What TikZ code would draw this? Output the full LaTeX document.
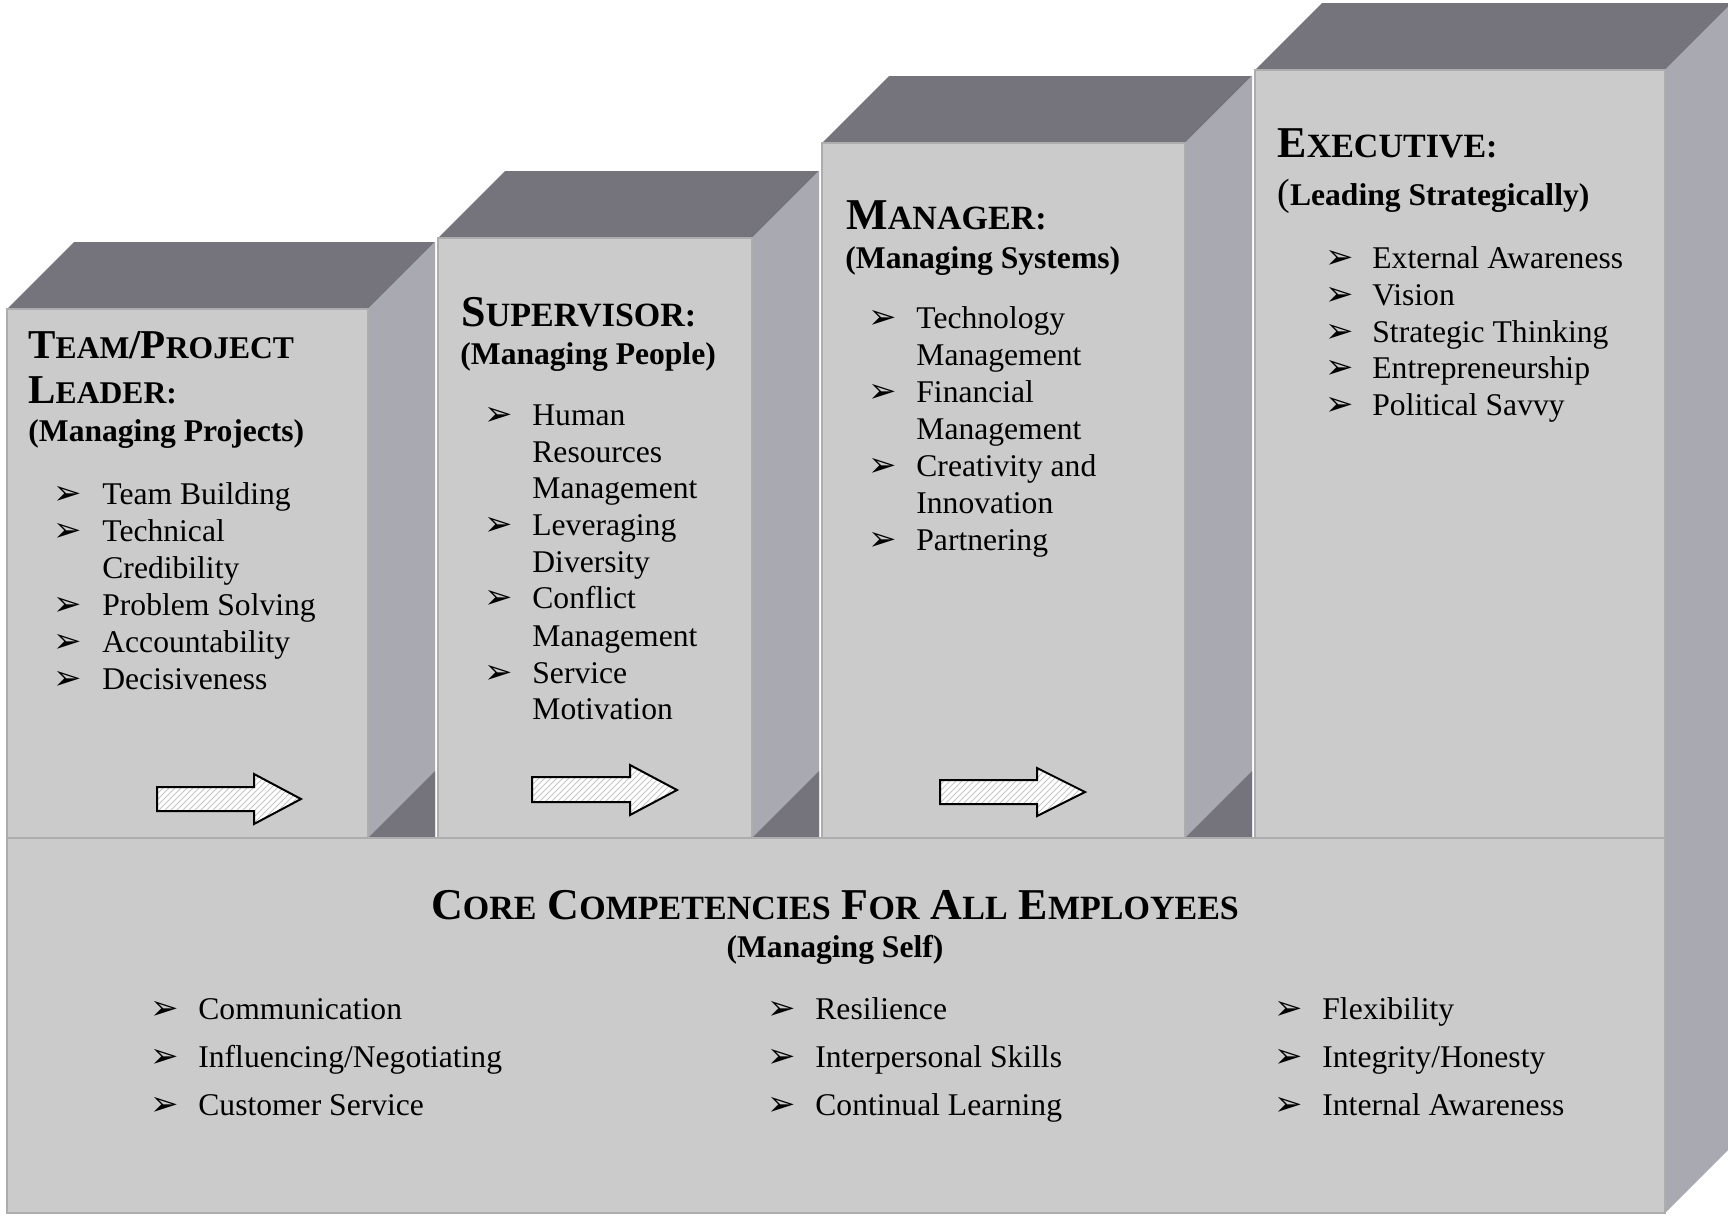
\documentclass[tikz,border=0pt]{standalone}
\usepackage{fontspec}
\setmainfont{Liberation Serif}
\newfontfamily\dvs{DejaVu Sans}
\usetikzlibrary{patterns}
\definecolor{frontc}{HTML}{CBCBCB}
\definecolor{topc}{HTML}{75747D}
\definecolor{sidec}{HTML}{A9A9B1}
\definecolor{edgec}{HTML}{ADADAD}
\newcommand\BigA[1]{{\fontsize{22}{22}\selectfont #1}}
\newcommand\SmA[1]{{\fontsize{17}{17}\selectfont #1}}
\newcommand\BigT[1]{{\fontsize{20.5}{20.5}\selectfont #1}}
\newcommand\SmT[1]{{\fontsize{15.8}{15.8}\selectfont #1}}
\newcommand\blockbox[3]{%
  \fill[topc] (#1,#3) -- (#1+67,#3-67) -- (#2+67,#3-67) -- (#2,#3) -- cycle;
  \fill[sidec] (#2,#3) -- (#2+67,#3-67) -- (#2+67,838) -- (#2,838) -- cycle;
  \fill[topc] (#2,838) -- (#2+67,771) -- (#2+67,838) -- cycle;
  \draw[front] (#1,#3) rectangle (#2,838);
}
\begin{document}
\begin{tikzpicture}[x=0.5pt,y=-0.5pt,
  front/.style={fill=frontc, draw=edgec, line width=0.7pt},
  itm/.style={anchor=base west, inner sep=0pt, font=\fontsize{15.8}{18.4}\selectfont},
  blt/.style={anchor=base west, inner sep=0pt, font=\dvs\fontsize{17}{17}\selectfont},
  ttl/.style={anchor=base west, inner sep=0pt, font=\bfseries\fontsize{22}{22}\selectfont},
  sub/.style={anchor=base west, inner sep=0pt, font=\bfseries\fontsize{15.8}{18}\selectfont},
  arr/.style={draw=black, line width=1pt, preaction={fill=white}, pattern=north east lines, pattern color=gray!45}]
\useasboundingbox (0,0) rectangle (1728,1215);
\fill[white] (0,0) rectangle (1728,1215);
\clip (0,0) rectangle (1728,1215);
% blocks
\blockbox{7}{368}{309}
\blockbox{438}{752}{238}
\blockbox{822}{1185}{143}
% executive block + base
\fill[topc] (1255,70) -- (1322,3) -- (1732,3) -- (1665,70) -- cycle;
\fill[sidec] (1665,70) -- (1732,3) -- (1732,1146) -- (1665,1213) -- cycle;
\draw[front] (1255,70) rectangle (1665,838);
\draw[front] (7,838) rectangle (1665,1213);
% arrows
\draw[arr] (157,787) -- (254,787) -- (254,774) -- (301,799) -- (254,824) -- (254,811) -- (157,811) -- cycle;
\draw[arr] (532,777) -- (630,777) -- (630,765) -- (677,790) -- (630,815) -- (630,802) -- (532,802) -- cycle;
\draw[arr] (940,780) -- (1037,780) -- (1037,768) -- (1085,792) -- (1037,816) -- (1037,804) -- (940,804) -- cycle;
% titles
\node[ttl,font=\bfseries\fontsize{20.5}{20.5}\selectfont] (t1a) at (28,358) {\BigT{T}\SmT{EAM}/\BigT{P}\SmT{ROJECT}};
\node[ttl,font=\bfseries\fontsize{20.5}{20.5}\selectfont] (t1b) at (28,403) {\BigT{L}\SmT{EADER:}};
\node[sub] (s1) at (28,441) {(Managing Projects)};
\node[ttl] (t2) at (461,326) {\BigA{S}\SmA{UPERVISOR:}};
\node[sub] (s2) at (460,364) {(Managing People)};
\node[ttl] (t3) at (846,229) {\BigA{M}\SmA{ANAGER:}};
\node[sub] (s3) at (845,268) {(Managing Systems)};
\node[ttl] (t4) at (1277,157) {\BigA{E}\SmA{XECUTIVE:}};
\node[sub] (s4) at (1277,205) {{\mdseries\fontsize{19}{19}\selectfont(}Leading Strategically)};
% lists
\foreach \yy/\txt/\bb [count=\i] in {504/Team Building/1, 541/Technical/1, 578/Credibility/0, 615/Problem Solving/1, 652/Accountability/1, 689/Decisiveness/1}{
  \node[itm] (a\i) at (102,\yy) {\txt};
  \ifnum\bb=1 \node[blt] (ab\i) at (53,\yy) {➢};\fi
}
\foreach \yy/\txt/\bb [count=\i] in {425/Human/1, 462/Resources/0, 498/Management/0, 535/Leveraging/1, 572/Diversity/0, 608/Conflict/1, 646/Management/0, 683/Service/1, 719/Motivation/0}{
  \node[itm] (b\i) at (532,\yy) {\txt};
  \ifnum\bb=1 \node[blt] (bb\i) at (484,\yy) {➢};\fi
}
\foreach \yy/\txt/\bb [count=\i] in {328/Technology/1, 365/Management/0, 402/Financial/1, 439/Management/0, 476/Creativity and/1, 513/Innovation/0, 550/Partnering/1}{
  \node[itm] (c\i) at (916,\yy) {\txt};
  \ifnum\bb=1 \node[blt] (cb\i) at (868,\yy) {➢};\fi
}
\foreach \yy/\txt [count=\i] in {268/External Awareness, 305/Vision, 342/Strategic Thinking, 378/Entrepreneurship, 415/Political Savvy}{
  \node[itm] (d\i) at (1372,\yy) {\txt};
  \node[blt] (db\i) at (1325,\yy) {➢};
}
% core
\node[anchor=base, inner sep=0pt, font=\bfseries\fontsize{22}{22}\selectfont] (core) at (835,919)
  {\BigA{C}\SmA{ORE} \BigA{C}\SmA{OMPETENCIES} \BigA{F}\SmA{OR} \BigA{A}\SmA{LL} \BigA{E}\SmA{MPLOYEES}};
\node[anchor=base, inner sep=0pt, font=\bfseries\fontsize{15.8}{18}\selectfont] (self) at (835,957) {(Managing Self)};
\foreach \bx/\tx/\yy/\txt [count=\i] in {150/198/1019/Communication, 150/198/1067/Influencing\slash Negotiating, 150/198/1115/Customer Service,
  767/815/1019/Resilience, 767/815/1067/Interpersonal Skills, 767/815/1115/Continual Learning,
  1274/1322/1019/Flexibility, 1274/1322/1067/Integrity\slash Honesty, 1274/1322/1115/Internal Awareness}{
  \node[itm] (e\i) at (\tx,\yy) {\txt};
  \node[blt] (eb\i) at (\bx,\yy) {➢};
}
\end{tikzpicture}
\end{document}
